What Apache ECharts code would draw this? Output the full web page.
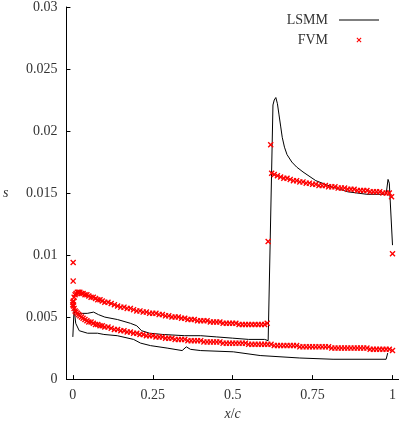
<!DOCTYPE html>
<html>
<head>
<meta charset="utf-8">
<script src="https://cdn.jsdelivr.net/npm/echarts@6/dist/echarts.min.js"></script>
<style>
  html, body { margin: 0; padding: 0; background: #fff; }
  #chart { width: 399px; height: 426px; }
</style>
</head>
<body>
<div id="chart"></div>
<script>
// axis ticks
const xTicks = [0, 0.25, 0.5, 0.75, 1]
const xTickLabels = ['0', '0.25', '0.5', '0.75', '1']
const yTicks = [0, 0.005, 0.01, 0.015, 0.02, 0.025, 0.03]
const yTickLabels = ['0', '0.005', '0.01', '0.015', '0.02', '0.025', '0.03']

// LSMM, upper surface (with shock)
const lsmmUpper = [
  [0.000, 0.0034], [0.004, 0.0057], [0.010, 0.0053], [0.025, 0.0053], [0.045, 0.0053],
  [0.065, 0.0054], [0.080, 0.0052], [0.100, 0.0050], [0.140, 0.0048], [0.180, 0.0045],
  [0.200, 0.0043], [0.215, 0.0039], [0.240, 0.0037], [0.280, 0.0036], [0.350, 0.0035],
  [0.400, 0.0035], [0.450, 0.0034], [0.500, 0.0033], [0.550, 0.0032], [0.600, 0.0032],
  [0.611, 0.0031], [0.626, 0.0221], [0.630, 0.0225], [0.635, 0.0227], [0.640, 0.0222],
  [0.645, 0.0213], [0.650, 0.0204], [0.655, 0.0195], [0.662, 0.0187], [0.670, 0.0181],
  [0.685, 0.0175], [0.700, 0.0171], [0.720, 0.0167], [0.760, 0.0160], [0.810, 0.0155],
  [0.860, 0.0151], [0.920, 0.0149], [0.980, 0.0149], [0.986, 0.0161], [0.990, 0.0158],
  [1.000, 0.0108]
]

// LSMM, lower surface
const lsmmLower = [
  [0.004, 0.0057], [0.009, 0.0045], [0.020, 0.0039], [0.046, 0.0037], [0.077, 0.0037],
  [0.097, 0.0036], [0.139, 0.0035], [0.190, 0.0032], [0.212, 0.0029], [0.243, 0.0027],
  [0.295, 0.0025], [0.342, 0.0023], [0.355, 0.0026], [0.368, 0.0024], [0.400, 0.0023],
  [0.502, 0.0022], [0.586, 0.0019], [0.710, 0.0017], [0.814, 0.0016], [0.980, 0.0016],
  [0.985, 0.0021]
]

// FVM, upper surface before the shock
const fvmUpperFront = [
  [0.000, 0.0060], [0.002, 0.0063], [0.004, 0.0066], [0.007, 0.0068], [0.010, 0.0069],
  [0.014, 0.0070], [0.018, 0.0070], [0.022, 0.0070], [0.027, 0.0069], [0.032, 0.0069],
  [0.038, 0.0068], [0.044, 0.0068], [0.050, 0.0067], [0.057, 0.0066], [0.064, 0.0066],
  [0.071, 0.0065], [0.078, 0.0064], [0.085, 0.0064], [0.092, 0.0063], [0.100, 0.0062],
  [0.110, 0.0062], [0.120, 0.0061], [0.130, 0.0060], [0.140, 0.0059], [0.150, 0.0058],
  [0.160, 0.0058], [0.170, 0.0057], [0.180, 0.0057], [0.190, 0.0056], [0.200, 0.0055],
  [0.210, 0.0055], [0.220, 0.0054], [0.230, 0.0054], [0.240, 0.0053], [0.250, 0.0053],
  [0.260, 0.0053], [0.270, 0.0052], [0.280, 0.0052], [0.290, 0.0051], [0.300, 0.0051],
  [0.310, 0.0050], [0.320, 0.0050], [0.330, 0.0050], [0.340, 0.0049], [0.350, 0.0049],
  [0.360, 0.0048], [0.370, 0.0048], [0.380, 0.0048], [0.390, 0.0047], [0.400, 0.0047],
  [0.410, 0.0047], [0.420, 0.0047], [0.430, 0.0046], [0.440, 0.0046], [0.450, 0.0046],
  [0.460, 0.0046], [0.470, 0.0045], [0.480, 0.0045], [0.490, 0.0045], [0.500, 0.0045],
  [0.510, 0.0045], [0.520, 0.0044], [0.530, 0.0044], [0.540, 0.0044], [0.550, 0.0044],
  [0.560, 0.0044], [0.570, 0.0044], [0.580, 0.0044], [0.590, 0.0044], [0.600, 0.0044],
  [0.608, 0.0045]
]

// FVM, points inside the shock and at the leading / trailing edges
const fvmSingles = [
  [0.001, 0.0094], [0.001, 0.0079], [0.611, 0.0111], [0.619, 0.0189],
  [0.997, 0.0147], [1.000, 0.0101]
]

// FVM, upper surface behind the shock
const fvmUpperRear = [
  [0.622, 0.0166], [0.630, 0.0165], [0.640, 0.0164], [0.650, 0.0163], [0.660, 0.0162],
  [0.670, 0.0162], [0.680, 0.0161], [0.690, 0.0160], [0.700, 0.0160], [0.710, 0.0159],
  [0.720, 0.0159], [0.730, 0.0158], [0.740, 0.0158], [0.750, 0.0157], [0.760, 0.0157],
  [0.770, 0.0156], [0.780, 0.0156], [0.790, 0.0156], [0.800, 0.0155], [0.810, 0.0155],
  [0.820, 0.0155], [0.830, 0.0154], [0.840, 0.0154], [0.850, 0.0154], [0.860, 0.0153],
  [0.870, 0.0153], [0.880, 0.0153], [0.890, 0.0152], [0.900, 0.0152], [0.910, 0.0152],
  [0.920, 0.0152], [0.930, 0.0151], [0.940, 0.0151], [0.950, 0.0151], [0.960, 0.0151],
  [0.970, 0.0150], [0.980, 0.0150], [0.990, 0.0150]
]

// FVM, lower surface
const fvmLower = [
  [0.000, 0.0062], [0.002, 0.0059], [0.004, 0.0057], [0.007, 0.0055], [0.010, 0.0054],
  [0.014, 0.0053], [0.018, 0.0052], [0.022, 0.0051], [0.027, 0.0050], [0.032, 0.0049],
  [0.038, 0.0048], [0.044, 0.0047], [0.050, 0.0046], [0.057, 0.0046], [0.064, 0.0045],
  [0.071, 0.0044], [0.078, 0.0044], [0.085, 0.0043], [0.092, 0.0043], [0.100, 0.0042],
  [0.110, 0.0042], [0.120, 0.0041], [0.130, 0.0040], [0.140, 0.0040], [0.150, 0.0039],
  [0.160, 0.0039], [0.170, 0.0038], [0.180, 0.0038], [0.190, 0.0037], [0.200, 0.0037],
  [0.210, 0.0036], [0.220, 0.0036], [0.230, 0.0035], [0.240, 0.0035], [0.250, 0.0035],
  [0.260, 0.0034], [0.270, 0.0034], [0.280, 0.0034], [0.290, 0.0033], [0.300, 0.0033],
  [0.310, 0.0033], [0.320, 0.0032], [0.330, 0.0032], [0.340, 0.0032], [0.350, 0.0032],
  [0.360, 0.0031], [0.370, 0.0031], [0.380, 0.0031], [0.390, 0.0031], [0.400, 0.0031],
  [0.410, 0.0030], [0.420, 0.0030], [0.430, 0.0030], [0.440, 0.0030], [0.450, 0.0030],
  [0.460, 0.0030], [0.470, 0.0029], [0.480, 0.0029], [0.490, 0.0029], [0.500, 0.0029],
  [0.510, 0.0029], [0.520, 0.0029], [0.530, 0.0029], [0.540, 0.0029], [0.550, 0.0028],
  [0.560, 0.0028], [0.570, 0.0028], [0.580, 0.0028], [0.590, 0.0028], [0.600, 0.0028],
  [0.610, 0.0028], [0.620, 0.0028], [0.630, 0.0027], [0.640, 0.0027], [0.650, 0.0027],
  [0.660, 0.0027], [0.670, 0.0027], [0.680, 0.0027], [0.690, 0.0027], [0.700, 0.0027],
  [0.710, 0.0026], [0.720, 0.0026], [0.730, 0.0026], [0.740, 0.0026], [0.750, 0.0026],
  [0.760, 0.0026], [0.770, 0.0026], [0.780, 0.0026], [0.790, 0.0026], [0.800, 0.0026],
  [0.810, 0.0025], [0.820, 0.0025], [0.830, 0.0025], [0.840, 0.0025], [0.850, 0.0025],
  [0.860, 0.0025], [0.870, 0.0025], [0.880, 0.0025], [0.890, 0.0025], [0.900, 0.0025],
  [0.910, 0.0025], [0.920, 0.0025], [0.930, 0.0024], [0.940, 0.0024], [0.950, 0.0024],
  [0.960, 0.0024], [0.970, 0.0024], [0.980, 0.0024], [0.990, 0.0024], [1.000, 0.0023]
]

const serif = '"Liberation Serif", "DejaVu Serif", serif'
const textColor = '#333'
const crossPath = 'path://M0,1.6L1.6,0L5,3.4L8.4,0L10,1.6L6.6,5L10,8.4L8.4,10L5,6.6L1.6,10L0,8.4L3.4,5Z'
const lineIcon = 'path://M0,0M40,10M0,4.5L40,4.5L40,5.5L0,5.5Z'
const crossIcon = 'path://M0,0M40,10M17.5,3.25L18.25,2.5L20,4.25L21.75,2.5L22.5,3.25L20.75,5L22.5,6.75L21.75,7.5L20,5.75L18.25,7.5L17.5,6.75L19.25,5Z'

const pickLabel = (ticks, labels, v) => {
  const i = ticks.findIndex(t => Math.abs(t - v) < 1e-9)
  return i < 0 ? '' : labels[i]
}

const chart = echarts.init(document.getElementById('chart'), null, { renderer: 'canvas' })

const lineSeries = (data) => ({
  name: 'LSMM',
  type: 'line',
  data,
  showSymbol: false,
  symbol: 'none',
  color: '#000',
  lineStyle: { color: '#000', width: 1 },
  z: 2
})

const option = {
  animation: false,
  backgroundColor: '#fff',
  grid: { left: 66, right: 0, top: 5, bottom: 45, containLabel: false },
  legend: {
    orient: 'vertical',
    right: 15,
    top: 8,
    align: 'right',
    itemWidth: 40,
    itemHeight: 10,
    itemGap: 6,
    textStyle: { fontFamily: serif, fontSize: 14, color: textColor, padding: [0, 6, 0, 0] },
    data: [
      { name: 'LSMM', icon: lineIcon },
      { name: 'FVM', icon: crossIcon }
    ]
  },
  xAxis: {
    type: 'value',
    min: -0.02,
    max: 1.02,
    name: '{i|x}/{i|c}',
    nameLocation: 'middle',
    nameGap: 27,
    nameTextStyle: {
      fontFamily: serif, fontSize: 14, color: textColor,
      rich: { i: { fontFamily: serif, fontSize: 14, fontStyle: 'italic', color: textColor } }
    },
    axisLine: { onZero: false, lineStyle: { color: '#000', width: 1 } },
    axisTick: { inside: true, length: 4, customValues: xTicks, lineStyle: { color: '#000' } },
    axisLabel: {
      customValues: xTicks,
      margin: 9,
      fontFamily: serif, fontSize: 14, color: textColor,
      formatter: v => pickLabel(xTicks, xTickLabels, v)
    },
    splitLine: { show: false }
  },
  yAxis: {
    type: 'value',
    min: 0,
    max: 0.03,
    interval: 0.005,
    name: 's',
    nameLocation: 'middle',
    nameRotate: 0,
    nameGap: 58,
    nameTextStyle: { fontFamily: serif, fontSize: 14, fontStyle: 'italic', color: textColor },
    axisLine: { show: true, onZero: false, lineStyle: { color: '#000', width: 1 } },
    axisTick: { show: true, inside: true, length: 4, lineStyle: { color: '#000' } },
    axisLabel: {
      margin: 9,
      fontFamily: serif, fontSize: 14, color: textColor,
      formatter: v => pickLabel(yTicks, yTickLabels, v)
    },
    splitLine: { show: false }
  },
  series: [
    lineSeries(lsmmUpper),
    lineSeries(lsmmLower),
    {
      name: 'FVM',
      type: 'scatter',
      data: [].concat(fvmUpperFront, fvmSingles, fvmUpperRear, fvmLower),
      symbol: crossPath,
      symbolSize: 6,
      color: '#ff0000',
      itemStyle: { color: '#ff0000', opacity: 1 },
      z: 3
    }
  ]
}

chart.setOption(option)
</script>
</body>
</html>
